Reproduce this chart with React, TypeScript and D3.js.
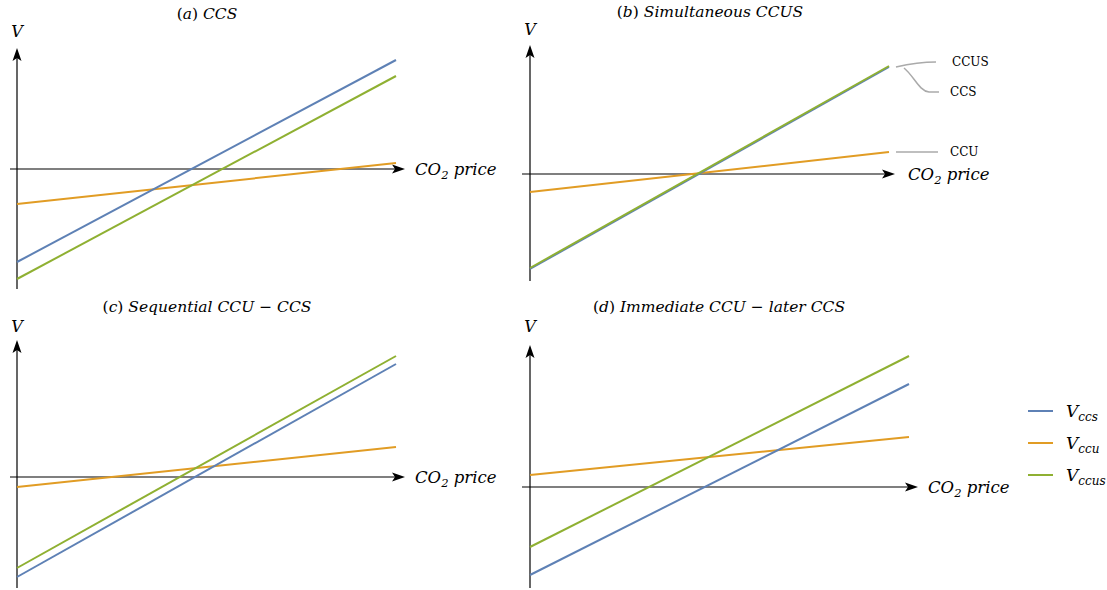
import React from "react";
import * as d3 from "d3";

// Data: value of each option at CO2 price = 0 and at CO2 price = 10
const prices = [0, 10];
const seriesNames = ["ccs", "ccu", "ccus"];
const colors = ["#5E81B5", "#E19C24", "#8FB032"];

const aCcs = [-4.65, 5.45];
const aCcu = [-1.75, 0.3];
const aCcus = [-5.5, 4.65];

const bCcs = [-4.75, 5.35];
const bCcu = [-0.9, 1.1];
const bCcus = [-4.7, 5.4];

const cCcs = [-5.0, 5.65];
const cCcu = [-0.5, 1.5];
const cCcus = [-4.55, 6.05];

const dCcs = [-4.4, 5.15];
const dCcu = [0.6, 2.5];
const dCcus = [-3.0, 6.55];

const titles = [
  ["(", "a", ") ", "CCS"],
  ["(", "b", ") ", "Simultaneous CCUS"],
  ["(", "c", ") ", "Sequential CCU \u2212 CCS"],
  ["(", "d", ") ", "Immediate CCU \u2212 later CCS"],
];

const panels = [
  { series: [aCcs, aCcu, aCcus], x0: 17, x10: 396, axL: 10, axR: 405, yTop: 48, yBot: 289, vMin: -6.0, vMax: 6.05, titleX: 207, titleY: 19, vY: 37, labelX: 415, order: [1, 0, 2] },
  { series: [bCcs, bCcu, bCcus], x0: 530, x10: 889, axL: 522, axR: 895, yTop: 45, yBot: 281, vMin: -5.35, vMax: 6.45, titleX: 710, titleY: 17, vY: 35, labelX: 908, order: [1, 0, 2] },
  { series: [cCcs, cCcu, cCcus], x0: 17, x10: 396, axL: 10, axR: 405, yTop: 340, yBot: 588, vMin: -5.55, vMax: 6.85, titleX: 207, titleY: 312, vY: 332, labelX: 415, order: [1, 0, 2] },
  { series: [dCcs, dCcu, dCcus], x0: 530, x10: 909, axL: 522, axR: 918, yTop: 345, yBot: 588, vMin: -5.05, vMax: 7.1, titleX: 719, titleY: 312, vY: 332, labelX: 928, order: [1, 0, 2] },
];

const serif = "'DejaVu Serif', 'Liberation Serif', serif";

function Arrow({ x, y, dir }: { x: number; y: number; dir: "up" | "right" }) {
  const L = 13, W = 4.5;
  const pts =
    dir === "up"
      ? [[x, y], [x - W, y + L], [x, y + L - 3], [x + W, y + L]]
      : [[x, y], [x - L, y - W], [x - L + 3, y], [x - L, y + W]];
  return <polygon points={pts.map((p) => p.join(",")).join(" ")} fill="#000" />;
}

function Panel({ p, idx }: { p: any; idx: number }) {
  const x = d3.scaleLinear().domain([prices[0], prices[1]]).range([p.x0, p.x10]);
  const y = d3.scaleLinear().domain([p.vMin, p.vMax]).range([p.yBot, p.yTop]);
  const line = d3
    .line<[number, number]>()
    .x((d) => x(d[0]))
    .y((d) => y(d[1]));
  const y0 = y(0);
  const t = titles[idx];
  return (
    <g>
      <text x={p.titleX} y={p.titleY} textAnchor="middle" fontFamily={serif} fontSize={15.5}>
        <tspan>{t[0]}</tspan>
        <tspan fontStyle="italic">{t[1]}</tspan>
        <tspan>{t[2]}</tspan>
        <tspan fontStyle="italic">{t[3]}</tspan>
      </text>
      <text x={p.x0} y={p.vY} textAnchor="middle" fontFamily={serif} fontStyle="italic" fontSize={16}>V</text>
      <line x1={p.x0} x2={p.x0} y1={p.yBot} y2={p.yTop + 8} stroke="#000" strokeWidth={1.2} />
      <Arrow x={p.x0} y={p.yTop} dir="up" />
      <line x1={p.axL} x2={p.axR - 8} y1={y0} y2={y0} stroke="#000" strokeWidth={1.2} />
      <Arrow x={p.axR} y={y0} dir="right" />
      <text x={p.labelX} y={y0 + 6} fontFamily={serif} fontStyle="italic" fontSize={16.5}>
        CO<tspan fontSize={11.5} dy={4}>2</tspan>
        <tspan dy={-4}> price</tspan>
      </text>
      {p.order.map((si: number) => (
        <path
          key={si}
          d={line(prices.map((pr, i) => [pr, p.series[si][i]]) as [number, number][]) || ""}
          fill="none"
          stroke={colors[si]}
          strokeWidth={2}
        />
      ))}
    </g>
  );
}

export default function App() {
  const legendY = [411, 443, 475];
  const bp = panels[1];
  const by = d3.scaleLinear().domain([bp.vMin, bp.vMax]).range([bp.yBot, bp.yTop]);
  const bEndX = bp.x10;
  const yCcus = by(bCcus[1]);
  const yCcu = by(bCcu[1]);
  const gray = "#AAAAAA";
  return (
    <svg width={1107} height={590} style={{ position: "absolute", left: 0, top: 0, background: "#fff" }}>
      <rect width={1107} height={590} fill="#fff" />
      {panels.map((p, i) => (
        <Panel key={i} p={p} idx={i} />
      ))}
      {/* annotations for panel (b) */}
      <path d={`M${bEndX + 7},${yCcus + 1} C${bEndX + 20},${yCcus - 2} ${bEndX + 30},${yCcus - 4} ${bEndX + 47},${yCcus - 4}`} fill="none" stroke={gray} strokeWidth={1.5} />
      <path d={`M${bEndX + 15},${yCcus + 2} C${bEndX + 25},${yCcus + 10} ${bEndX + 30},${yCcus + 25} ${bEndX + 40},${yCcus + 26} L${bEndX + 50},${yCcus + 26}`} fill="none" stroke={gray} strokeWidth={1.5} />
      <line x1={bEndX + 7} x2={bEndX + 49} y1={yCcu} y2={yCcu} stroke={gray} strokeWidth={1.5} />
      <text x={bEndX + 63} y={yCcus} fontFamily={serif} fontSize={12}>CCUS</text>
      <text x={bEndX + 61} y={yCcus + 30} fontFamily={serif} fontSize={12}>CCS</text>
      <text x={bEndX + 61} y={yCcu + 4} fontFamily={serif} fontSize={12}>CCU</text>
      {/* legend */}
      {seriesNames.map((s, i) => (
        <g key={s}>
          <line x1={1028} x2={1053} y1={legendY[i]} y2={legendY[i]} stroke={colors[i]} strokeWidth={2} />
          <text x={1066} y={legendY[i] + 6} fontFamily={serif} fontStyle="italic" fontSize={17}>
            V<tspan fontSize={12} dy={4}>{s}</tspan>
          </text>
        </g>
      ))}
    </svg>
  );
}
